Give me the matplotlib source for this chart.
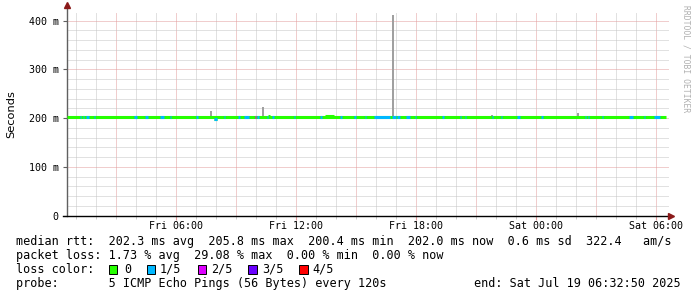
import matplotlib
matplotlib.use("Agg")
import matplotlib.pyplot as plt
from matplotlib.patches import Rectangle

# ---------------- data (hours since Fri 00:00, values in ms) ----------------
t_start = 0.5472   # Fri 00:32:50
t_end = 30.5472    # Sat 06:32:50
median_base = 202.0

# median deviations (start_h, end_h, value_ms)
dev_start = [7.90, 13.45, 10.62]
dev_end = [8.05, 13.90, 10.68]
dev_value = [198.5, 204.0, 205.0]

# loss segments: 1/5
blue_start = [1.18, 1.33, 1.50, 1.90, 3.90, 4.45, 5.20, 5.70, 7.00, 7.90, 8.40, 9.10, 9.40,
              10.05, 10.55, 10.80, 11.90, 13.20, 14.20, 14.90, 15.45, 15.90, 16.80, 17.05,
              17.50, 17.95, 19.30, 20.20, 20.45, 21.78, 22.25, 23.05, 24.25, 26.45, 26.60,
              27.30, 28.65, 29.40, 29.90]
blue_end = [1.25, 1.40, 1.65, 1.97, 4.05, 4.60, 5.40, 5.77, 7.10, 8.05, 8.45, 9.20, 9.65,
            10.15, 10.60, 10.90, 11.95, 13.30, 14.30, 15.00, 15.50, 16.70, 17.00, 17.20,
            17.70, 18.00, 19.40, 20.25, 20.50, 21.85, 22.30, 23.20, 24.35, 26.50, 26.65,
            27.35, 28.85, 29.45, 30.20]
# loss segments: 2/5
mag_start = [9.93]
mag_end = [10.00]

# smoke spikes (hour, top ms)
spike_hour = [7.75, 10.35, 11.25, 11.45, 11.80, 16.85, 20.85, 21.80, 26.10]
spike_top = [215.0, 222.0, 204.5, 204.5, 204.5, 411.0, 205.0, 206.0, 211.0]

xtick_hours = [6, 12, 18, 24, 30]
xtick_labels = ["Fri 06:00", "Fri 12:00", "Fri 18:00", "Sat 00:00", "Sat 06:00"]
ytick_values = [0, 100, 200, 300, 400]
ytick_labels = ["0", "100 m", "200 m", "300 m", "400 m"]

loss_labels = ["0", "1/5", "2/5", "3/5", "4/5"]
loss_colors = ["#26ff00", "#00b8ff", "#dd00ff", "#6a00ff", "#ff0000"]

stats_line1 = "median rtt:  202.3 ms avg  205.8 ms max  200.4 ms min  202.0 ms now  0.6 ms sd  322.4   am/s"
stats_line2 = "packet loss: 1.73 % avg  29.08 % max  0.00 % min  0.00 % now"
probe_line = "probe:       5 ICMP Echo Pings (56 Bytes) every 120s"
end_line = "end: Sat Jul 19 06:32:50 2025"

# ---------------- figure ----------------
W, H = 697, 297
fig = plt.figure(figsize=(W / 100, H / 100), dpi=100)
fig.patch.set_facecolor("white")

def fx(px):
    return px / W

def fy(py):
    return 1 - py / H

ax_left, ax_right, ax_bottom, ax_top = 66.9, 666.9, 215.7, 13.0
ax = fig.add_axes([fx(ax_left), fy(ax_bottom), (ax_right - ax_left) / W, (ax_bottom - ax_top) / H])
ax.set_facecolor("white")
ymax = 415.8
ax.set_xlim(t_start, t_end)
ax.set_ylim(0, ymax)

# grid
minor_col = "#c4c4c4"
major_col = "#e29c9c"
dots = (0, (1, 1))
for h in range(1, 31):
    if t_start < h < t_end:
        col = major_col if h % 3 == 0 else minor_col
        ax.axvline(h, color=col, lw=0.72, ls=dots, zorder=1)
for v in range(20, 420, 20):
    if v <= ymax:
        col = major_col if v % 100 == 0 else minor_col
        ax.plot([t_start, t_end + 0.1], [v, v], color=col, lw=0.72, ls=dots, zorder=1,
                clip_on=False)

# smoke spikes
ax.bar(spike_hour, [t - median_base for t in spike_top], bottom=median_base, width=0.08,
       color="#a0a0a0", zorder=2, linewidth=0)

# median line
lw = 2.2
ax.hlines(median_base, t_start, t_end - 0.03, color=loss_colors[0], lw=lw, zorder=3)
for s, e, v in zip(dev_start, dev_end, dev_value):
    ax.hlines(v, s, e, color=loss_colors[0], lw=lw, zorder=3)
for s, e in zip(blue_start, blue_end):
    v = median_base
    for ds, de, dv in zip(dev_start, dev_end, dev_value):
        if ds <= s < de:
            v = dv
    ax.hlines(v, s, e, color=loss_colors[1], lw=lw, zorder=4)
for s, e in zip(mag_start, mag_end):
    ax.hlines(median_base, s, e, color=loss_colors[2], lw=lw, zorder=4)

# axes styling
for sp in ["top", "right"]:
    ax.spines[sp].set_visible(False)
ax.spines["left"].set_color("#606060")
ax.spines["left"].set_linewidth(1.0)
ax.spines["left"].set_bounds(0, ymax + 12)
ax.spines["bottom"].set_color("black")
ax.spines["bottom"].set_linewidth(1.0)
ax.spines["bottom"].set_bounds(t_start - 0.2, t_end + 0.15)

ax.plot([0], [1.0 + 8 / (ax_bottom - ax_top)], marker="^", color="#8b1a1a",
        markersize=4, transform=ax.transAxes, clip_on=False, zorder=6)
ax.plot([1.0 + 4 / 600], [0], marker=">", color="#8b1a1a",
        markersize=4, transform=ax.transAxes, clip_on=False, zorder=6)

mono = "DejaVu Sans Mono"
ax.set_xticks(xtick_hours)
ax.set_xticklabels(xtick_labels, fontfamily=mono, fontsize=7.2)
ax.set_yticks(ytick_values)
ax.set_yticklabels(ytick_labels, fontfamily=mono, fontsize=7.2)
ax.set_xticks(range(1, 31), minor=True)
ax.set_yticks(range(20, 420, 20), minor=True)
ax.tick_params(axis="x", which="major", length=3, color=major_col, pad=0.8)
ax.tick_params(axis="x", which="minor", length=2, color=minor_col)
ax.tick_params(axis="y", which="major", length=3, color="#606060", pad=3)
ax.tick_params(axis="y", which="minor", length=0)

fig.text(fx(11), fy(114), "Seconds", rotation=90, ha="center", va="center",
         fontsize=8.2, family="DejaVu Sans")

fig.text(fx(686), fy(5), "RRDTOOL / TOBI OETIKER", rotation=270, ha="center", va="top",
         fontsize=5.8, family=mono, color="#b0b0b0")

fs = 8.5
fig.text(fx(16), fy(241.7), stats_line1, ha="left", va="center", fontsize=fs, family=mono)
fig.text(fx(16), fy(255.7), stats_line2, ha="left", va="center", fontsize=fs, family=mono)
fig.text(fx(16), fy(269.3), "loss color:", ha="left", va="center", fontsize=fs, family=mono)
fig.text(fx(16), fy(283.3), probe_line, ha="left", va="center", fontsize=fs, family=mono)
fig.text(fx(681), fy(283.3), end_line, ha="right", va="center", fontsize=fs, family=mono)

box_x = [108.6, 146.5, 197.5, 248.4, 299.0]
lab_x = [124.5, 159.5, 211.5, 262.0, 312.5]
for bx, lx, lab, col in zip(box_x, lab_x, loss_labels, loss_colors):
    fig.patches.append(Rectangle((fx(bx), fy(273.5)), 8.5 / W, 8.5 / H, transform=fig.transFigure,
                                 facecolor=col, edgecolor="black", linewidth=0.7))
    fig.text(fx(lx), fy(269.3), lab, ha="left", va="center", fontsize=fs, family=mono)

fig.savefig("out.png", dpi=100, facecolor="white")
